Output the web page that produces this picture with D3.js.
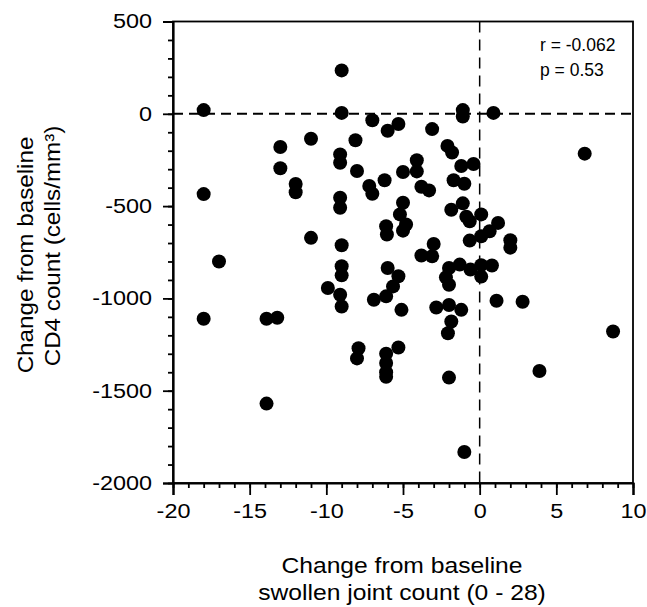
<!DOCTYPE html>
<html>
<head>
<meta charset="utf-8">
<script src="https://cdn.jsdelivr.net/npm/d3@7"></script>
<style>
  html, body { margin: 0; padding: 0; background: #fff; }
  svg { display: block; }
  text { font-family: "Liberation Sans", Arial, sans-serif; fill: #000; }
</style>
</head>
<body>
<svg id="chart" width="647" height="607"></svg>
<script>
// Change from baseline swollen joint count (0 - 28)
const sjcChange = [
  -18, -18, -17, -18, -13.9, -13.2, -13.9, -13, -13, -11,
  -12, -12, -11, -9, -9, -7, -6, -5.3, -3.1, -1.1,
  -1.1, 0.9, -8.1, -9.1, -9.1, -8, -4.1, -4.1, -5, -6.2,
  -2.1, -1.8, -1.2, -0.4, -1.7, -1, -7.2, -7, -3.8, -3.3,
  -9.1, -9.1, -5, -5.2, -4.8, -5, -6.1, -6.05, -1.85, -1.1,
  -0.87, 0.1, -0.65, 1.2, 0.65, 0.1, -0.65, 2, 2, -9,
  -3, -3.8, -3.1, -1.3, -2, -2.2, -2, -0.6, 0.1, 0.8,
  0.1, -9, -9, -6, -5.3, -5.65, -6.1, -6.9, -9.9, -9.1,
  -9, -5.1, -2.83, -2, -1.2, -1.85, -2.07, 1.1, 2.8, 8.7,
  6.85, -7.9, -8, -6.1, -6.1, -6.1, -6.1, -5.3, -2, 3.9,
  -1
];
// Change from baseline CD4 count (cells/mm3)
const cd4Change = [
  20, -435, -800, -1110, -1110, -1105, -1570, -180, -295, -135,
  -380, -425, -672, 235, 5, -35, -92, -55, -83, 20,
  -15, 5, -143, -220, -265, -310, -252, -312, -315, -360,
  -174, -210, -283, -272, -360, -379, -391, -433, -395, -415,
  -455, -509, -482, -545, -600, -633, -609, -654, -520, -485,
  -558, -545, -582, -591, -636, -663, -687, -685, -725, -712,
  -705, -768, -772, -817, -835, -886, -926, -844, -820, -822,
  -882, -826, -875, -835, -880, -935, -989, -1007, -944, -980,
  -1044, -1062, -1049, -1036, -1062, -1125, -1189, -1013, -1018, -1179,
  -216, -1270, -1325, -1300, -1350, -1400, -1425, -1266, -1429, -1393,
  -1832
];
const xTicks = [-20, -15, -10, -5, 0, 5, 10];
const yTicks = [500, 0, -500, -1000, -1500, -2000];
const xMinorTicks = d3.range(-20, 10.01, 1);
const yMinorTicks = d3.range(-2000, 500.01, 100);
const xTitle = ["Change from baseline", "swollen joint count (0 - 28)"];
const yTitle = ["Change from baseline", "CD4 count (cells/mm³)"];
const annotation = ["r = -0.062", "p = 0.53"];

const svg = d3.select("#chart");
const mLeft = 173, mRight = 633, mTop = 21.5, mBottom = 483;
const x = d3.scaleLinear().domain([-20, 10]).range([mLeft, mRight]);
const y = d3.scaleLinear().domain([-2000, 500]).range([mBottom, mTop]);
const fmt = d => String(d);

function stretch(sel, k) {
  sel.each(function () {
    const w = this.getComputedTextLength();
    d3.select(this).attr("textLength", w * k).attr("lengthAdjust", "spacingAndGlyphs");
  });
}

// frame
svg.append("rect")
  .attr("x", mLeft).attr("y", mTop)
  .attr("width", mRight - mLeft).attr("height", mBottom - mTop)
  .attr("fill", "none").attr("stroke", "#000").attr("stroke-width", 1.8);

// reference dashed lines
svg.append("line")
  .attr("x1", x(-20)).attr("x2", x(10)).attr("y1", y(0)).attr("y2", y(0))
  .attr("stroke", "#000").attr("stroke-width", 2).attr("stroke-dasharray", "10,6");
svg.append("line")
  .attr("x1", x(0)).attr("x2", x(0)).attr("y1", y(500)).attr("y2", y(-2000))
  .attr("stroke", "#000").attr("stroke-width", 1.5).attr("stroke-dasharray", "11,7");

// minor ticks
const gxMinor = svg.append("g").attr("transform", `translate(0,${mBottom})`)
  .call(d3.axisBottom(x).tickValues(xMinorTicks).tickSize(5).tickFormat(""));
const gyMinor = svg.append("g").attr("transform", `translate(${mLeft},0)`)
  .call(d3.axisLeft(y).tickValues(yMinorTicks).tickSize(5).tickFormat(""));
[gxMinor, gyMinor].forEach(g => {
  g.select(".domain").remove();
  g.selectAll("line").attr("stroke", "#000").attr("stroke-width", 1.8);
});

// major ticks
const gx = svg.append("g").attr("transform", `translate(0,${mBottom})`)
  .call(d3.axisBottom(x).tickValues(xTicks).tickSize(12).tickPadding(9).tickFormat(fmt));
const gy = svg.append("g").attr("transform", `translate(${mLeft},0)`)
  .call(d3.axisLeft(y).tickValues(yTicks).tickSize(10).tickPadding(11).tickFormat(fmt));
[gx, gy].forEach(g => {
  g.select(".domain").attr("stroke", "#000").attr("stroke-width", 2.2);
  g.selectAll("line").attr("stroke", "#000").attr("stroke-width", 1.8);
  g.selectAll("text").attr("font-size", 20).attr("font-family", "Liberation Sans, Arial, sans-serif").attr("fill", "#000");
});
gx.selectAll("text").call(stretch, 1.17);
gy.selectAll("text").call(stretch, 1.17);

// points
svg.append("g").selectAll("circle")
  .data(sjcChange.map((v, i) => [v, cd4Change[i]]))
  .join("circle")
  .attr("cx", d => x(d[0]))
  .attr("cy", d => y(d[1]))
  .attr("r", 7)
  .attr("fill", "#000");

// x title
svg.append("g").selectAll("text").data(xTitle).join("text")
  .attr("x", 402).attr("y", (d, i) => 573 + i * 27)
  .attr("text-anchor", "middle").attr("font-size", 22)
  .text(d => d)
  .call(stretch, 1.12);

// y title
svg.append("g").selectAll("text").data(yTitle).join("text")
  .attr("transform", (d, i) => `translate(${33 + i * 27},${[255, 246][i]}) rotate(-90)`)
  .attr("text-anchor", "middle").attr("font-size", 22)
  .text(d => d)
  .call(stretch, 1.1);

// annotation
svg.append("g").selectAll("text").data(annotation).join("text")
  .attr("x", 540).attr("y", (d, i) => 51 + i * 25)
  .attr("font-size", 17.5)
  .text(d => d);
</script>
</body>
</html>
